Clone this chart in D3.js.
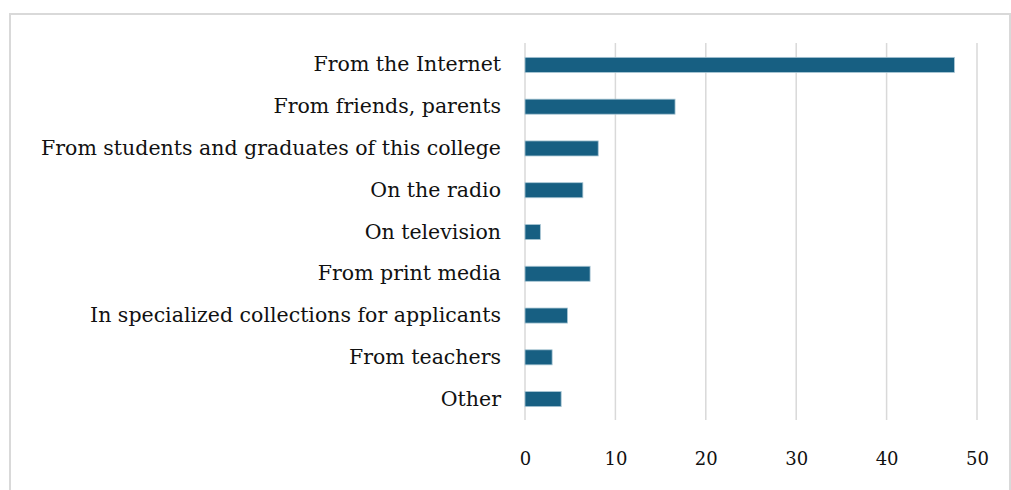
<!DOCTYPE html>
<html>
<head>
<meta charset="utf-8">
<script src="https://cdn.jsdelivr.net/npm/d3@7"></script>
<style>
  body { margin: 0; background: #fff; }
  svg { display: block; }
  .tick text { font-family: "DejaVu Serif", serif; fill: #111; }
</style>
</head>
<body>
<div id="chart"></div>
<script>
// data
const categories = [
    "From the Internet",
    "From friends, parents",
    "From students and graduates of this college",
    "On the radio",
    "On television",
    "From print media",
    "In specialized collections for applicants",
    "From teachers",
    "Other"
];
const values = [47.5, 16.6, 8.1, 6.4, 1.7, 7.2, 4.7, 3.0, 4.0];
const xTicks = [0, 10, 20, 30, 40, 50];

const W = 1011, H = 490;
const margin = { top: 44, right: 34, bottom: 70, left: 525 };

const svg = d3.select("#chart").append("svg")
    .attr("width", W)
    .attr("height", H);

// outer frame
svg.append("rect")
    .attr("x", 10)
    .attr("y", 14)
    .attr("width", 1000)
    .attr("height", 500)
    .attr("fill", "none")
    .attr("stroke", "#d9d9d9")
    .attr("stroke-width", 2);

const x = d3.scaleLinear()
    .domain([0, 50])
    .range([margin.left, W - margin.right]);

const y = d3.scaleBand()
    .domain(categories)
    .range([margin.top, H - margin.bottom])
    .paddingInner(0.64)
    .paddingOuter(0.32);

// gridlines
svg.append("g")
    .selectAll("line")
    .data(xTicks)
    .enter()
    .append("line")
    .attr("x1", d => x(d))
    .attr("x2", d => x(d))
    .attr("y1", margin.top - 1)
    .attr("y2", H - margin.bottom)
    .attr("stroke", "#d9d9d9")
    .attr("stroke-width", 1.5);

// bars
svg.append("g")
    .selectAll("rect")
    .data(values)
    .enter()
    .append("rect")
    .attr("x", x(0))
    .attr("y", (d, i) => y(categories[i]))
    .attr("width", d => x(d) - x(0))
    .attr("height", y.bandwidth())
    .attr("fill", "#175f82")
    .attr("stroke", "#a9c6d4")
    .attr("stroke-width", 0.8);

// category axis
const yAxis = svg.append("g")
    .attr("transform", "translate(" + margin.left + ",0)")
    .call(d3.axisLeft(y).tickSize(0).tickPadding(24));
yAxis.select(".domain").remove();
yAxis.selectAll("text").style("font-size", "20.5px");

// value axis
const xAxis = svg.append("g")
    .attr("transform", "translate(0," + (H - margin.bottom) + ")")
    .call(d3.axisBottom(x).tickValues(xTicks).tickSize(0).tickPadding(32));
xAxis.select(".domain").remove();
xAxis.selectAll("text").style("font-size", "18px");
</script>
</body>
</html>
